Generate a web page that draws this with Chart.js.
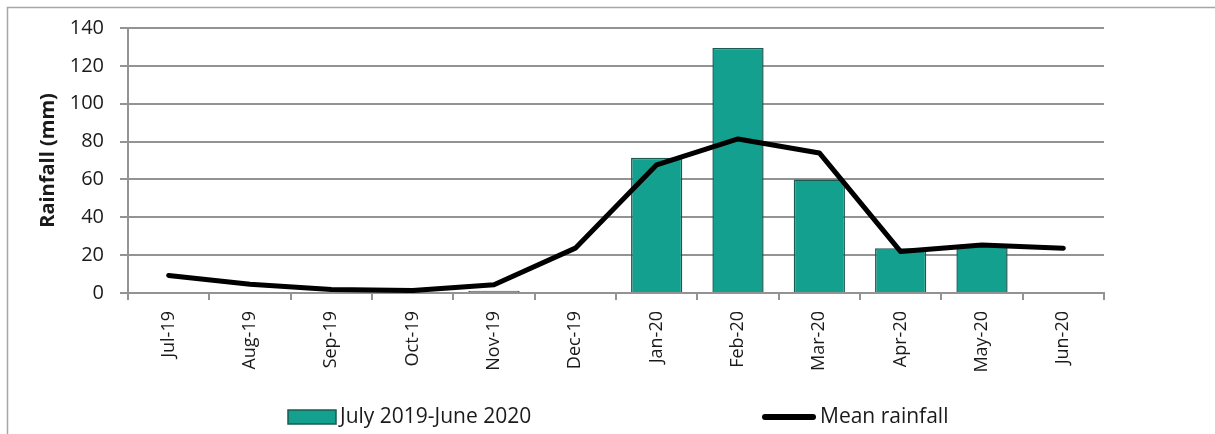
<!DOCTYPE html>
<html>
<head>
<meta charset="utf-8">
<script src="https://cdn.jsdelivr.net/npm/chart.js@4/dist/chart.umd.min.js"></script>
<style>
  html, body { margin: 0; padding: 0; background: #fff; overflow: hidden; }
  canvas { display: block; }
</style>
</head>
<body>
<canvas id="rainChart" width="1215" height="434"></canvas>
<script>
// ── data ──
const months   = ['Jul-19', 'Aug-19', 'Sep-19', 'Oct-19', 'Nov-19', 'Dec-19',
                  'Jan-20', 'Feb-20', 'Mar-20', 'Apr-20', 'May-20', 'Jun-20'];
const rainfall = [0, 0, 0, 0, 1.2, 0, 71.5, 129.5, 60, 23.6, 25.5, 0];
const meanRain = [9.3, 4.6, 1.8, 1.3, 4.4, 23.7, 67.7, 81.4, 74.0, 21.9, 25.3, 23.7];
const yTicks   = { min: 0, max: 140, step: 20 };

const FONT  = '"Open Sans", "Noto Sans", sans-serif';
const TEAL  = '#13a08f';
const TEAL_EDGE = '#1c5a51';
const GRID  = '#939393';
const INK   = '#1a1a1a';

// outer frame + bottom legend drawn by hand
const frameAndLegend = {
  id: 'frameAndLegend',
  beforeDraw(chart) {
    const { ctx } = chart;
    ctx.save();
    ctx.strokeStyle = '#a6a6a6';
    ctx.lineWidth = 1.5;
    ctx.strokeRect(7.5, 7.5, chart.width + 20, chart.height + 20);
    ctx.restore();
  },
  afterDraw(chart) {
    const { ctx } = chart;
    const ds = chart.data.datasets;
    const y = 417;
    ctx.save();
    ctx.font = `21px ${FONT}`;
    ctx.fillStyle = INK;
    ctx.textBaseline = 'middle';

    // bar item
    ctx.fillStyle = ds[0].backgroundColor;
    ctx.fillRect(288, 410, 48, 14);
    ctx.strokeStyle = ds[0].borderColor;
    ctx.lineWidth = 1.5;
    ctx.strokeRect(288, 410, 48, 14);
    ctx.fillStyle = INK;
    ctx.fillText(ds[0].label, 340, y);

    // line item
    ctx.strokeStyle = ds[1].borderColor;
    ctx.lineWidth = 6;
    ctx.lineCap = 'round';
    ctx.beginPath();
    ctx.moveTo(765, y);
    ctx.lineTo(813, y);
    ctx.stroke();
    ctx.fillText(ds[1].label, 820, y);
    ctx.restore();
  }
};

const ctx = document.getElementById('rainChart').getContext('2d');
new Chart(ctx, {
  type: 'bar',
  data: {
    labels: months,
    datasets: [
      {
        label: 'July 2019-June 2020',
        data: rainfall,
        backgroundColor: TEAL,
        borderColor: TEAL_EDGE,
        borderWidth: 1.5,
        barPercentage: 1,
        categoryPercentage: 0.63,
        order: 2,
      },
      {
        type: 'line',
        label: 'Mean rainfall',
        data: meanRain,
        borderColor: '#000',
        borderWidth: 5,
        pointRadius: 0,
        tension: 0,
        borderCapStyle: 'round',
        borderJoinStyle: 'round',
        fill: false,
        order: 1,
      }
    ]
  },
  options: {
    responsive: false,
    animation: false,
    devicePixelRatio: 1,
    layout: { padding: { left: 0, top: 24, right: 111, bottom: 0 } },
    scales: {
      x: {
        offset: true,
        grid: {
          offset: true,
          drawOnChartArea: false,
          drawTicks: true,
          tickLength: 7,
          color: GRID,
          lineWidth: 2,
        },
        border: { color: GRID, width: 2 },
        ticks: {
          color: INK,
          font: { family: FONT, size: 18 },
          minRotation: 90,
          maxRotation: 90,
          padding: 11,
          autoSkip: false,
        },
        afterFit: s => { s.height = 141; },
      },
      y: {
        min: yTicks.min,
        max: yTicks.max,
        grid: { color: GRID, lineWidth: 2, tickLength: 8 },
        border: { color: GRID, width: 2 },
        ticks: {
          stepSize: yTicks.step,
          color: INK,
          font: { family: FONT, size: 20 },
          padding: 16,
        },
        title: {
          display: true,
          text: 'Rainfall (mm)',
          color: INK,
          font: { family: FONT, size: 20, weight: 'bold' },
          padding: { top: 36, bottom: 0 },
        },
        afterFit: s => { s.width = 128; },
      }
    },
    plugins: {
      legend: { display: false },
      tooltip: { enabled: false },
    }
  },
  plugins: [frameAndLegend]
});
</script>
</body>
</html>
